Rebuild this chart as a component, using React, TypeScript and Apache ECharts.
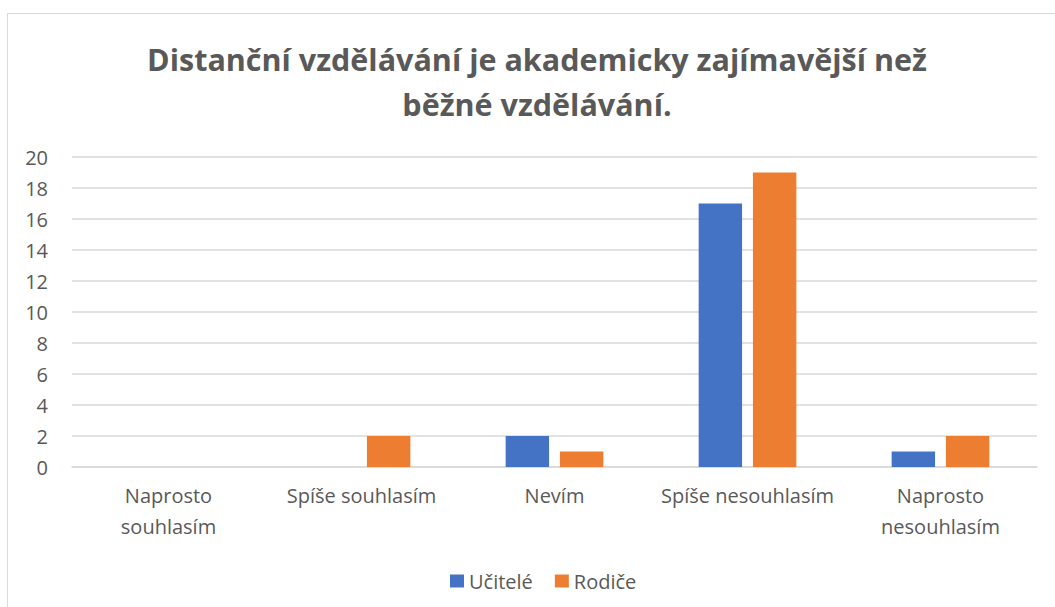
import React, { useEffect, useRef } from "react";
import * as echarts from "echarts";

const categories = [
  "Naprosto\nsouhlasím",
  "Spíše souhlasím",
  "Nevím",
  "Spíše nesouhlasím",
  "Naprosto\nnesouhlasím",
];
const teachers = [0, 0, 2, 17, 1];
const parents = [0, 2, 1, 19, 2];
const yTicks = { min: 0, max: 20, interval: 2 };
const titleText = "Distanční vzdělávání je akademicky zajímavější než\nběžné vzdělávání.";

const FONT = "'Open Sans', 'Noto Sans', sans-serif";
const TXT = "#595959";

export default function App() {
  const ref = useRef<HTMLDivElement>(null);
  useEffect(() => {
    if (!ref.current) return;
    const chart = echarts.init(ref.current, undefined, { renderer: "svg" });
    chart.setOption({
      animation: false,
      backgroundColor: "#ffffff",
      textStyle: { fontFamily: FONT },
      graphic: [
        {
          type: "rect",
          shape: { x: 7.5, y: 13.5, width: 1100, height: 700 },
          style: { fill: "none", stroke: "#d9d9d9", lineWidth: 1 },
          silent: true,
          z: 0,
        },
        {
          type: "text",
          x: 537,
          y: 81,
          style: {
            text: titleText,
            fontFamily: FONT,
            fontSize: 30.5,
            fontWeight: "bold",
            fill: TXT,
            align: "center",
            verticalAlign: "middle",
            lineHeight: 45,
          },
          z: 10,
        },
      ],
      legend: {
        left: 445,
        top: 566,
        icon: "rect",
        itemWidth: 14,
        itemHeight: 13,
        itemGap: 22,
        textStyle: { fontFamily: FONT, fontSize: 20, color: TXT },
        data: ["Učitelé", "Rodiče"],
      },
      grid: { left: 72, right: 18, top: 157, bottom: 140, containLabel: false },
      xAxis: {
        type: "category",
        data: categories,
        axisLine: { lineStyle: { color: "#d9d9d9", width: 1.5 } },
        axisTick: { show: false },
        axisLabel: {
          fontFamily: FONT,
          fontSize: 20,
          color: TXT,
          margin: 13,
          lineHeight: 31,
          interval: 0,
        },
      },
      yAxis: {
        type: "value",
        min: yTicks.min,
        max: yTicks.max,
        interval: yTicks.interval,
        axisLine: { show: false },
        axisTick: { show: false },
        axisLabel: { fontFamily: FONT, fontSize: 20, color: TXT, margin: 24 },
        splitLine: { lineStyle: { color: "#d9d9d9", width: 1.5 } },
      },
      series: [
        {
          name: "Učitelé",
          type: "bar",
          data: teachers,
          barWidth: "22.5%",
          barGap: "25%",
          itemStyle: { color: "#4472c4" },
        },
        {
          name: "Rodiče",
          type: "bar",
          data: parents,
          barWidth: "22.5%",
          barGap: "25%",
          itemStyle: { color: "#ed7d31" },
        },
      ],
    });
    return () => chart.dispose();
  }, []);
  return (
    <div
      ref={ref}
      style={{ position: "absolute", left: 0, top: 0, width: 1055, height: 607 }}
    />
  );
}
